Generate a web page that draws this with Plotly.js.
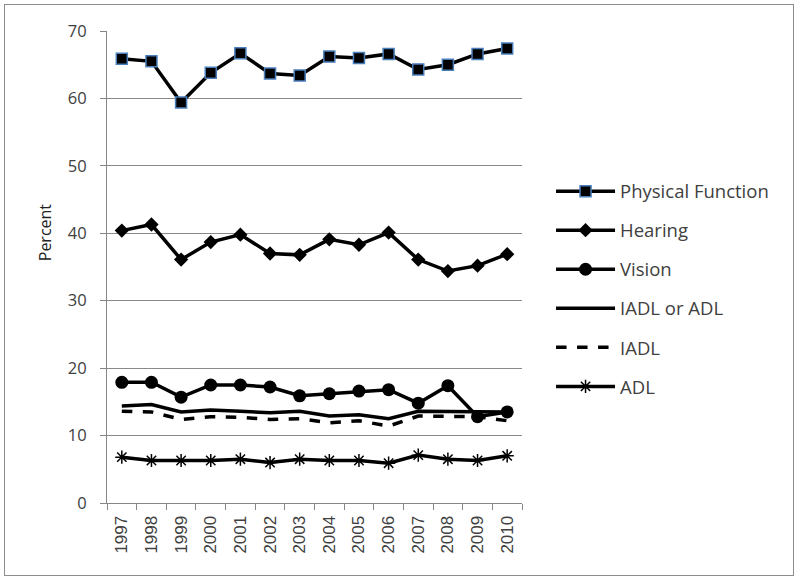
<!DOCTYPE html>
<html><head><meta charset="utf-8">
<script src="https://cdn.plot.ly/plotly-3.0.1.min.js"></script>
<style>
body{margin:0;background:#fff;}
#wrap{position:relative;width:800px;height:582px;}
#chart{position:absolute;left:0;top:0;width:800px;height:582px;}
#frame{position:absolute;left:4px;top:4px;width:788px;height:570px;border:1.5px solid #8c8c8c;pointer-events:none;}
</style></head>
<body><div id="wrap"><div id="chart"></div><div id="frame"></div></div>
<script>
const years = ["1997","1998","1999","2000","2001","2002","2003","2004","2005","2006","2007","2008","2009","2010"];
const physicalFunction = [65.9,65.5,59.4,63.8,66.7,63.7,63.4,66.2,66.0,66.6,64.3,65.0,66.6,67.4];
const hearing = [40.4,41.3,36.1,38.7,39.8,37.0,36.8,39.1,38.3,40.1,36.1,34.4,35.2,36.9];
const vision = [17.9,17.9,15.7,17.5,17.5,17.2,15.9,16.2,16.6,16.8,14.8,17.4,12.8,13.5];
const iadlOrAdl = [14.4,14.6,13.5,13.8,13.6,13.4,13.6,12.9,13.1,12.5,13.6,13.6,13.6,13.5];
const iadl = [13.6,13.5,12.4,12.8,12.7,12.4,12.5,11.9,12.2,11.4,12.9,12.8,12.8,12.2];
const adl = [6.8,6.3,6.3,6.3,6.5,6.0,6.5,6.3,6.3,5.9,7.1,6.5,6.3,7.0];
const seriesNames = ["Physical Function","Hearing","Vision","IADL or ADL","IADL","ADL"];
const yTitle = "Percent";

const lw = 3.5;
const traces = [
 {x:years,y:physicalFunction,name:seriesNames[0],mode:"lines+markers",line:{color:"#000",width:lw},
  marker:{symbol:"square",size:11,color:"#000",line:{color:"#4a7ebb",width:1.5}}},
 {x:years,y:hearing,name:seriesNames[1],mode:"lines+markers",line:{color:"#000",width:lw},
  marker:{symbol:"diamond",size:11,color:"#000"}},
 {x:years,y:vision,name:seriesNames[2],mode:"lines+markers",line:{color:"#000",width:lw},
  marker:{symbol:"circle",size:13,color:"#000"}},
 {x:years,y:iadlOrAdl,name:seriesNames[3],mode:"lines",line:{color:"#000",width:lw}},
 {x:years,y:iadl,name:seriesNames[4],mode:"lines",line:{color:"#000",width:lw,dash:"dash"}},
 {x:years,y:adl,name:seriesNames[5],mode:"lines+markers",line:{color:"#000",width:lw},
  marker:{symbol:"asterisk-open",size:11,color:"#000",line:{color:"#000",width:1.5}}}
];
traces.forEach((t,i)=>{t.legendgroup="g"+i;});

const layout = {
 width:800,height:582,
 paper_bgcolor:"#fff",plot_bgcolor:"#fff",
 font:{family:"Open Sans, sans-serif",size:14,color:"#404040"},
 margin:{l:107,r:278,t:31,b:79},
 showlegend:true,
 legend:{x:1.07,y:0.70,xanchor:"left",yanchor:"top",traceorder:"grouped",tracegroupgap:12,
   itemwidth:59,font:{size:18.5,color:"#404040"},bgcolor:"rgba(0,0,0,0)"},
 xaxis:{type:"category",range:[-0.5,13.5],tickangle:-90,showgrid:false,
   showline:true,linecolor:"#868686",linewidth:1,ticks:"outside",tickson:"boundaries",ticklen:6,tickcolor:"#868686",
   ticklabelstandoff:5,
   tickfont:{family:"Liberation Sans, Arial, sans-serif",size:17,color:"#404040"},fixedrange:true},
 yaxis:{range:[0,70],dtick:10,showgrid:true,gridcolor:"#8a8a8a",gridwidth:1,zeroline:false,
   showline:true,linecolor:"#868686",ticks:"outside",ticklen:6,tickcolor:"#868686",
   ticklabelstandoff:10,
   tickfont:{size:16.5,color:"#404040"}},
 annotations:[{text:yTitle,xref:"paper",yref:"paper",x:-0.149,y:0.574,textangle:-90,showarrow:false,
   xanchor:"center",yanchor:"middle",font:{size:16,color:"#222"}}]
};
Plotly.newPlot("chart",traces,layout,{displayModeBar:false,staticPlot:true});
</script></body></html>
